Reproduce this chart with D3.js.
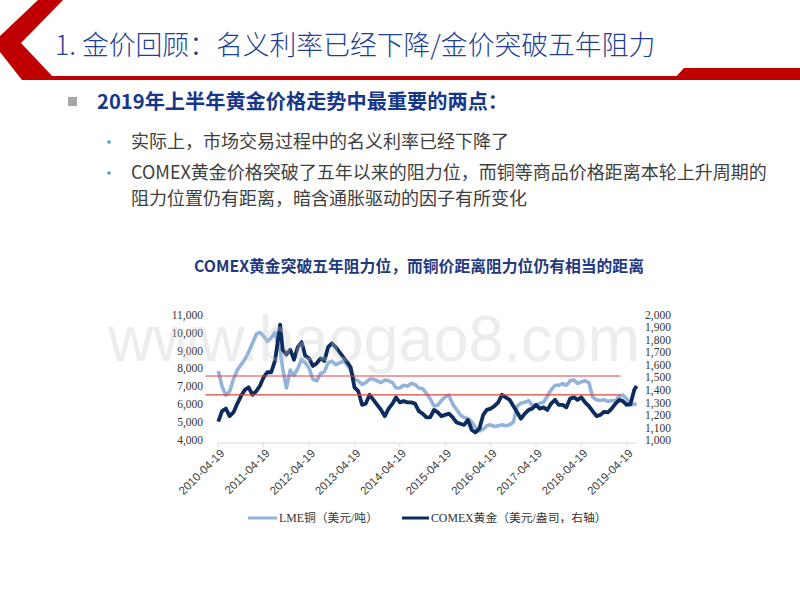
<!DOCTYPE html>
<html><head><meta charset="utf-8">
<script src="https://cdn.jsdelivr.net/npm/d3@7"></script>
<style>body{margin:0;background:#fff}svg{display:block}</style>
</head><body><svg id="c" width="800" height="600"></svg>
<script>
// ---------------- data ----------------
const dates = [
"2010-04-19","2010-05-19","2010-06-19","2010-07-19","2010-08-19","2010-09-19","2010-10-19","2010-11-19","2010-12-19",
"2011-01-19","2011-02-19","2011-03-19","2011-04-19","2011-05-19","2011-06-19","2011-07-19","2011-08-19","2011-08-30","2011-09-19","2011-10-19","2011-11-19","2011-12-19",
"2012-01-19","2012-02-19","2012-03-19","2012-04-19","2012-05-19","2012-06-19","2012-07-19","2012-08-19","2012-09-19","2012-10-19","2012-11-19","2012-12-19",
"2013-01-19","2013-02-19","2013-03-19","2013-04-19","2013-05-19","2013-06-19","2013-07-19","2013-08-19","2013-09-19","2013-10-19","2013-11-19","2013-12-19",
"2014-01-19","2014-02-19","2014-03-19","2014-04-19","2014-05-19","2014-06-19","2014-07-19","2014-08-19","2014-09-19","2014-10-19","2014-11-19","2014-12-19",
"2015-01-19","2015-02-19","2015-03-19","2015-04-19","2015-05-19","2015-06-19","2015-07-19","2015-08-19","2015-09-19","2015-10-19","2015-11-19","2015-12-19",
"2016-01-19","2016-02-19","2016-03-19","2016-04-19","2016-05-19","2016-06-19","2016-07-19","2016-08-19","2016-09-19","2016-10-19","2016-11-19","2016-12-19",
"2017-01-19","2017-02-19","2017-03-19","2017-04-19","2017-05-19","2017-06-19","2017-07-19","2017-08-19","2017-09-19","2017-10-19","2017-11-19","2017-12-19",
"2018-01-19","2018-02-19","2018-03-19","2018-04-19","2018-05-19","2018-06-19","2018-07-19","2018-08-19","2018-09-19","2018-10-19","2018-11-19","2018-12-19",
"2019-01-19","2019-02-19","2019-03-19","2019-04-19","2019-05-19","2019-06-19","2019-07-08"
];
// LME copper (USD/t), left axis
const copper = [
7850,7000,6500,6700,7400,7900,8200,8500,8900,
9400,9900,10000,9800,9500,9700,10000,9200,9000,8000,6900,7900,7600,
8000,8500,8300,8000,7400,7300,7700,7800,8300,8400,8200,8300,
8400,8200,7900,7400,7300,7100,7200,7400,7400,7300,7200,7350,
7300,7200,6900,6900,7050,7000,7150,7100,6900,6870,6600,6300,
5900,5950,6200,6400,6500,6000,5700,5400,5250,5200,5000,4700,
4500,4600,4800,4850,4750,4800,4850,4800,4850,5000,5900,6050,
6100,6200,5950,5900,6050,6100,6450,6800,7050,7050,7150,7050,
7300,7350,7150,7250,7300,7200,6400,6250,6200,6250,6150,6200,
6200,6450,6500,6300,5950,6000,6000
];
// COMEX gold (USD/oz), right axis
const gold = [
1147,1230,1250,1190,1220,1290,1350,1400,1420,
1360,1390,1430,1500,1540,1540,1630,1840,1920,1720,1680,1720,1640,
1740,1780,1670,1650,1590,1610,1650,1630,1740,1770,1740,1700,
1660,1620,1580,1420,1390,1280,1290,1360,1320,1280,1240,1190,
1250,1290,1340,1300,1310,1300,1300,1290,1230,1210,1180,1180,
1240,1220,1190,1200,1210,1180,1140,1130,1120,1160,1080,1060,
1090,1200,1240,1250,1270,1300,1360,1340,1320,1270,1220,1170,
1210,1240,1250,1280,1250,1260,1240,1290,1320,1280,1280,1260,
1330,1340,1320,1340,1300,1270,1230,1190,1200,1225,1220,1250,
1290,1320,1310,1280,1285,1400,1430
];
const xTickLabels = ["2010-04-19","2011-04-19","2012-04-19","2013-04-19","2014-04-19","2015-04-19","2016-04-19","2017-04-19","2018-04-19","2019-04-19"];
const leftTicks = [4000,5000,6000,7000,8000,9000,10000,11000];
const rightTicks = [1000,1100,1200,1300,1400,1500,1600,1700,1800,1900,2000];
const resistanceGold = [1510, 1360];          // red resistance lines (right-axis values)
const resistanceSpan = ["2010-01-05","2019-03-01"];
const seriesNames = ["LME铜（美元/吨）","COMEX黄金（美元/盎司，右轴）"];
const titleText = "1. 金价回顾：名义利率已经下降/金价突破五年阻力";
const headText = "2019年上半年黄金价格走势中最重要的两点：";
const bullets = ["实际上，市场交易过程中的名义利率已经下降了",
  "COMEX黄金价格突破了五年以来的阻力位，而铜等商品价格距离本轮上升周期的",
  "阻力位置仍有距离，暗含通胀驱动的因子有所变化"];
const chartTitle = "COMEX黄金突破五年阻力位，而铜价距离阻力位仍有相当的距离";

// ---------------- drawing ----------------
const svg = d3.select("#c");
const parse = d3.timeParse("%Y-%m-%d");
const CJK = "'Noto Sans CJK SC','Noto Sans',sans-serif";
const SERIF = "'Liberation Serif','Times New Roman','Noto Sans CJK SC',serif";
const SANS = "'Liberation Sans',Arial,sans-serif";

// header decoration
svg.append("path").attr("d","M38,0 L63,0 L21,43 L54,78 L54,80 L22,80 L0,52 L0,36 Z").attr("fill","#C00000");
svg.append("rect").attr("x",30).attr("y",76).attr("width",770).attr("height",4).attr("fill","#C00000");
svg.append("path").attr("d","M673,80 L684,68 L800,68 L800,80 Z").attr("fill","#C00000");

svg.append("text").attr("x",55).attr("y",55).text(titleText)
  .attr("font-family",CJK).attr("font-size",26.8).attr("font-weight",300).attr("fill","#1F3F94");

svg.append("rect").attr("x",68).attr("y",97).attr("width",9).attr("height",9).attr("fill","#A6A6A6");
svg.append("text").attr("x",97).attr("y",109).text(headText)
  .attr("font-family",CJK).attr("font-size",20.2).attr("font-weight",700).attr("fill","#16378A");

const bulletY = [142,173,199];
bullets.forEach((b,i)=>{
  if(i<2) svg.append("circle").attr("cx",109).attr("cy",bulletY[i]).attr("r",1.8).attr("fill","#3E9FDB");
  svg.append("text").attr("x",131).attr("y",bulletY[i]+6).text(b)
    .attr("font-family",CJK).attr("font-size",18).attr("fill","#404040");
});

svg.append("text").attr("x",419).attr("y",272).attr("text-anchor","middle").text(chartTitle)
  .attr("font-family",CJK).attr("font-size",15.8).attr("font-weight",700).attr("fill","#1F3A80");

// scales
const x = d3.scaleTime().domain([parse(xTickLabels[0]), parse(xTickLabels[xTickLabels.length-1])]).range([218.3, 626.7]);
const yL = d3.scaleLinear().domain([4000,11000]).range([440,314.5]);
const yR = d3.scaleLinear().domain([1000,2000]).range([440,314.5]);
const xEnd = x(parse(dates[dates.length-1]));

// x axis
const xAxis = svg.append("g").attr("transform","translate(0,443)");
xAxis.append("line").attr("x1",x(parse(xTickLabels[0]))).attr("x2",xEnd).attr("stroke","#D9D9D9").attr("stroke-width",1);
xTickLabels.forEach(s=>{
  const px = x(parse(s));
  xAxis.append("line").attr("x1",px).attr("x2",px).attr("y1",0).attr("y2",4).attr("stroke","#D9D9D9");
  xAxis.append("text").attr("transform",`translate(${px+4},8) rotate(-45)`).attr("text-anchor","end")
    .attr("dy","0.35em").text(s).attr("font-family",SANS).attr("font-size",11.5).attr("fill","#404040");
});

// y axes (labels only)
const fmt = d3.format(",");
svg.append("g").attr("transform","translate(203,0)")
  .call(d3.axisLeft(yL).tickValues(leftTicks).tickFormat(fmt).tickSize(0).tickPadding(0))
  .call(g=>g.select(".domain").remove())
  .selectAll("text").attr("font-family",SERIF).attr("font-size",11.5).attr("fill","#333");
svg.append("g").attr("transform","translate(645,0)")
  .call(d3.axisRight(yR).tickValues(rightTicks).tickFormat(fmt).tickSize(0).tickPadding(0))
  .call(g=>g.select(".domain").remove())
  .selectAll("text").attr("font-family",SERIF).attr("font-size",11.5).attr("fill","#333");

// lines
const idx = d3.range(dates.length);
const lineC = d3.line().x(i=>x(parse(dates[i]))).y(i=>yL(copper[i]));
const lineG = d3.line().x(i=>x(parse(dates[i]))).y(i=>yR(gold[i]));
svg.append("path").attr("d",lineC(idx)).attr("fill","none").attr("stroke","#93B3DB").attr("stroke-width",3.6).attr("stroke-linejoin","round");
svg.append("path").attr("d",lineG(idx)).attr("fill","none").attr("stroke","#0D2C5E").attr("stroke-width",3.8).attr("stroke-linejoin","round");

// resistance lines
resistanceGold.forEach(v=>{
  svg.append("line").attr("x1",x(parse(resistanceSpan[0]))).attr("x2",x(parse(resistanceSpan[1])))
    .attr("y1",yR(v)).attr("y2",yR(v)).attr("stroke","#E0403C").attr("stroke-width",1.2);
});

// watermark
svg.append("text").attr("x",108).attr("y",361).attr("textLength",532).attr("lengthAdjust","spacingAndGlyphs")
  .text("www.baogao8.com").attr("font-family",SANS).attr("font-size",64).attr("fill","#C8C8C8").attr("opacity",0.32);

// legend
const lg = svg.append("g");
lg.append("line").attr("x1",248).attr("x2",277).attr("y1",518).attr("y2",518).attr("stroke","#93B3DB").attr("stroke-width",3);
lg.append("text").attr("x",279).attr("y",522).text(seriesNames[0]).attr("font-family",SERIF).attr("font-size",11.8).attr("fill","#333");
lg.append("line").attr("x1",402).attr("x2",429).attr("y1",518).attr("y2",518).attr("stroke","#0D2C5E").attr("stroke-width",3);
lg.append("text").attr("x",431).attr("y",522).text(seriesNames[1]).attr("font-family",SERIF).attr("font-size",11.8).attr("fill","#333");
</script>
</body></html>
